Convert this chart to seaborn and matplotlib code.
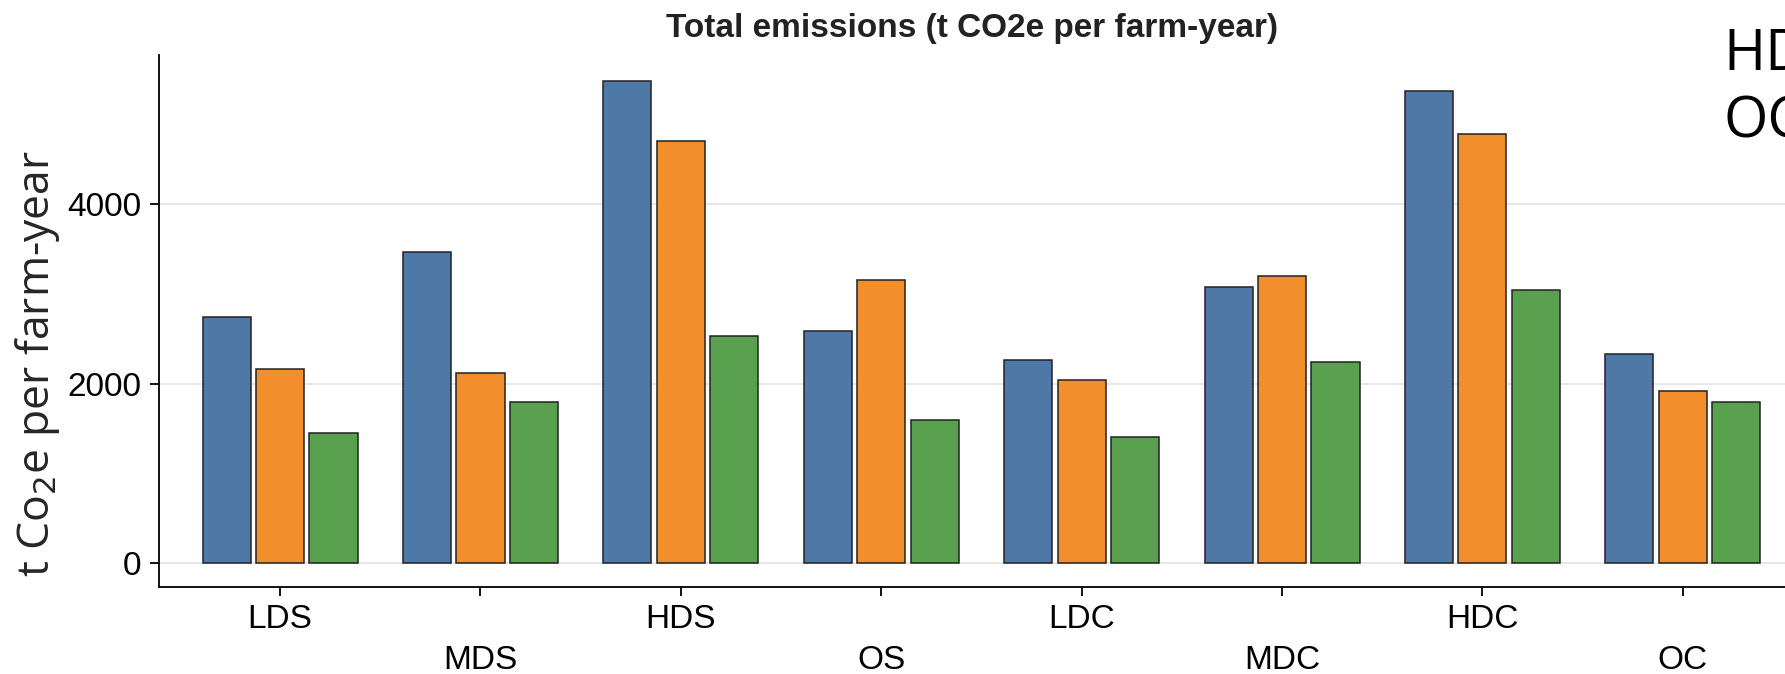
import pandas as pd
import matplotlib.pyplot as plt
import seaborn as sns

# farm types and the three series
farm_types = ["LDS", "MDS", "HDS", "OS", "LDC", "MDC", "HDC", "OC"]
series_names = ["S1", "S2", "S3"]
s1 = [2747, 3468, 5367, 2582, 2266, 3076, 5253, 2335]
s2 = [2165, 2114, 4696, 3152, 2038, 3203, 4772, 1924]
s3 = [1456, 1797, 2532, 1595, 1405, 2241, 3038, 1797]
colors = ["#4e79a7", "#f28e2b", "#59a14f"]
y_ticks = [0, 2000, 4000]

rows = []
for name, vals in zip(series_names, [s1, s2, s3]):
    for ft, v in zip(farm_types, vals):
        rows.append({"farm": ft, "series": name, "value": v})
df = pd.DataFrame(rows)

sns.set_style("white")
plt.rcParams["font.family"] = ["Liberation Sans", "DejaVu Sans"]
plt.rcParams["text.color"] = "black"
plt.rcParams["xtick.color"] = "black"
plt.rcParams["ytick.color"] = "black"

fig = plt.figure(figsize=(17.85, 6.74), dpi=100)
ax = fig.add_axes([0.0891, 0.129, 0.9109, 0.79])

ax.yaxis.grid(True, color="#e3e3e3", linewidth=1.2, zorder=0)
ax.set_axisbelow(True)

sns.barplot(data=df, x="farm", y="value", hue="series", order=farm_types,
            hue_order=series_names, palette=colors, width=0.8, gap=0.1,
            edgecolor="#222222", linewidth=1.1, saturation=1,
            legend=False, ax=ax)

ax.set_xlim(-0.604, 7.51)
ax.set_ylim(-262, 5660)
ax.set_yticks(y_ticks)
ax.set_yticklabels([str(t) for t in y_ticks], fontsize=24)
ax.set_xticks(range(len(farm_types)))
ax.set_xticklabels(farm_types, fontsize=24)
ax.tick_params(axis="x", bottom=True, length=6.5, width=1.3, pad=6)
ax.tick_params(axis="y", left=True, length=6.5, width=1.3, pad=6.5)
# staggered labels
for i, t in enumerate(ax.xaxis.get_major_ticks()):
    if i % 2 == 1:
        t.set_pad(35)

sns.despine(ax=ax)
for s in ["left", "bottom"]:
    ax.spines[s].set_color("black")
    ax.spines[s].set_linewidth(1.3)

ax.set_xlabel("")
ax.set_ylabel("t Co$_2$e per farm-year", fontsize=32, family=["Open Sans", "DejaVu Sans"])
ax.yaxis.set_label_coords(-0.0595, 0.42)
ax.set_title("Total emissions (t CO2e per farm-year)", fontsize=24, fontweight="bold",
             pad=13, color="#222222")

fig.text(0.9653, 0.8961, "HD", fontsize=41, family=["Open Sans", "DejaVu Sans"], va="baseline")
fig.text(0.9653, 0.7967, "OC", fontsize=41, family=["Open Sans", "DejaVu Sans"], va="baseline")

fig.savefig("out.png", dpi=100)
